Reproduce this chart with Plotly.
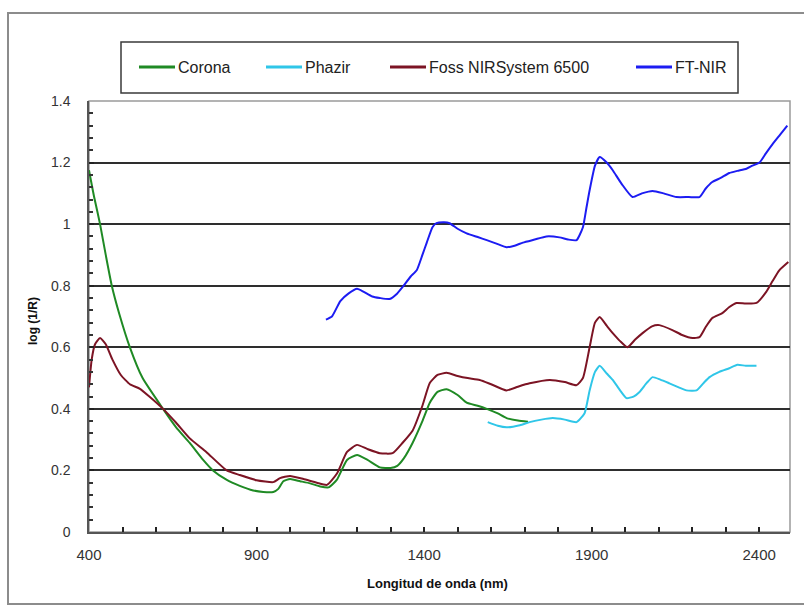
import plotly.graph_objects as go

# Spectra: wavelength (nm) and log(1/R)
corona_nm = [400, 415, 433, 450, 468, 490, 522, 560, 621, 660, 700, 740, 770,
             810, 850, 890, 920, 950, 965, 980, 1000, 1030, 1060, 1090, 1115, 1140, 1170,
             1200, 1230, 1268, 1300, 1320, 1340, 1366, 1395, 1417, 1440, 1467, 1500, 1527,
             1560, 1587, 1620, 1646, 1680, 1710]
corona_val = [1.175, 1.09, 1.0, 0.90, 0.80, 0.71, 0.60, 0.50, 0.40, 0.34,
              0.29, 0.235, 0.20, 0.17, 0.15, 0.135, 0.13, 0.13, 0.14, 0.165, 0.172, 0.165,
              0.158, 0.148, 0.145, 0.17, 0.234, 0.25, 0.235, 0.21, 0.208, 0.215, 0.24, 0.29,
              0.36, 0.42, 0.455, 0.464, 0.445, 0.42, 0.41, 0.40, 0.385, 0.37, 0.362, 0.358]

phazir_nm = [1590, 1620, 1646, 1686, 1715, 1750, 1784, 1820, 1855, 1879, 1894, 1910, 1924,
             1945, 1963, 1985, 2004, 2025, 2043, 2065, 2082, 2105, 2132, 2160, 2183, 2213,
             2235, 2252, 2281, 2311, 2335, 2360, 2392]
phazir_val = [0.357, 0.345, 0.34, 0.347, 0.357, 0.365, 0.37, 0.365, 0.357, 0.386, 0.46, 0.52,
              0.54, 0.515, 0.494, 0.46, 0.435, 0.44, 0.455, 0.485, 0.503, 0.495, 0.483, 0.47,
              0.46, 0.46, 0.485, 0.503, 0.52, 0.532, 0.543, 0.54, 0.54]

foss_nm = [400, 408, 418, 433, 450, 470, 495, 522, 552, 580, 621, 660, 700, 750, 811, 850,
           900, 950, 970, 1000, 1040, 1080, 1110, 1140, 1170, 1200, 1230, 1268, 1306, 1336,
           1366, 1395, 1417, 1440, 1467, 1500, 1530, 1566, 1600, 1646, 1680, 1715, 1775,
           1820, 1855, 1874, 1894, 1910, 1924, 1945, 1963, 1985, 2007, 2030, 2052, 2080,
           2102, 2141, 2170, 2201, 2222, 2240, 2260, 2290, 2310, 2332, 2360, 2392, 2421,
           2440, 2460, 2487]
foss_val = [0.47, 0.56, 0.61, 0.63, 0.61, 0.56, 0.51, 0.48, 0.465, 0.44, 0.40, 0.355, 0.305,
            0.26, 0.20, 0.185, 0.168, 0.162, 0.175, 0.182, 0.172, 0.16, 0.153, 0.19, 0.26,
            0.283, 0.27, 0.256, 0.256, 0.29, 0.33, 0.41, 0.484, 0.51, 0.517, 0.507, 0.50,
            0.494, 0.48, 0.46, 0.472, 0.483, 0.494, 0.487, 0.477, 0.50, 0.60, 0.68, 0.698,
            0.67, 0.646, 0.62, 0.60, 0.625, 0.646, 0.668, 0.672, 0.656, 0.64, 0.63, 0.633,
            0.665, 0.695, 0.711, 0.73, 0.744, 0.742, 0.744, 0.78, 0.815, 0.85, 0.877]

ftnir_nm = [1107, 1125, 1150, 1175, 1200, 1220, 1245, 1268, 1297, 1320, 1336, 1360, 1378,
            1395, 1408, 1425, 1437, 1460, 1476, 1500, 1527, 1560, 1587, 1620, 1646, 1670,
            1695, 1730, 1765, 1804, 1830, 1855, 1874, 1884, 1894, 1910, 1924, 1945, 1963,
            1990, 2022, 2050, 2082, 2115, 2153, 2190, 2222, 2240, 2260, 2285, 2311, 2335,
            2362, 2380, 2401, 2420, 2440, 2462, 2484]
ftnir_val = [0.69, 0.70, 0.75, 0.775, 0.79, 0.78, 0.765, 0.76, 0.757, 0.775, 0.796, 0.83,
             0.85, 0.90, 0.94, 0.99, 1.003, 1.006, 1.003, 0.985, 0.97, 0.958, 0.948, 0.935,
             0.925, 0.93, 0.94, 0.95, 0.96, 0.957, 0.95, 0.948, 0.99, 1.05, 1.11, 1.19,
             1.218, 1.20, 1.175, 1.13, 1.088, 1.10, 1.108, 1.10, 1.088, 1.088, 1.088, 1.115,
             1.137, 1.15, 1.166, 1.173, 1.18, 1.19, 1.2, 1.23, 1.26, 1.29, 1.32]

series_names = ["Corona", "Phazir", "Foss NIRSystem 6500", "FT-NIR"]
series_colors = ["#1f8a24", "#2fc6e8", "#7c1424", "#1c1cf2"]
series_x = [corona_nm, phazir_nm, foss_nm, ftnir_nm]
series_y = [corona_val, phazir_val, foss_val, ftnir_val]

x_title = "Longitud de onda (nm)"
y_title = "log (1/R)"

W, H = 804, 608
L, R, T, B = 89, 790, 101, 532  # plot area in pixels

def px_x(p):
    return (p - L) / (R - L)

def px_y(p):
    return (B - p) / (B - T)

FONT = "Liberation Sans, Arial, sans-serif"

fig = go.Figure()
for name, color, xs, ys in zip(series_names, series_colors, series_x, series_y):
    fig.add_trace(go.Scatter(x=xs, y=ys, mode="lines", name=name,
                             line=dict(color=color, width=2, shape="spline", smoothing=0.5),
                             showlegend=False))

shapes = []
# outer frame
shapes.append(dict(type="rect", xref="paper", yref="paper",
                   x0=px_x(8), x1=px_x(812), y0=px_y(604), y1=px_y(13),
                   line=dict(color="#8c8c8c", width=2), layer="below"))
# plot border (top/right)
shapes.append(dict(type="rect", xref="paper", yref="paper", x0=0, x1=1, y0=0, y1=1,
                   line=dict(color="#9a9a9a", width=1.5), layer="below"))
# legend box
shapes.append(dict(type="rect", xref="paper", yref="paper",
                   x0=px_x(121), x1=px_x(738), y0=px_y(93), y1=px_y(42),
                   line=dict(color="#3a3a3a", width=1.5), fillcolor="white"))

annotations = []
legend_line_x = [139, 266, 390, 636]
leg_y = 67
for name, color, lx in zip(series_names, series_colors, legend_line_x):
    shapes.append(dict(type="line", xref="paper", yref="paper",
                       x0=px_x(lx), x1=px_x(lx + 36), y0=px_y(leg_y), y1=px_y(leg_y),
                       line=dict(color=color, width=3)))
    annotations.append(dict(text=name, xref="paper", yref="paper",
                            x=px_x(lx + 37), y=px_y(leg_y), xanchor="left", yanchor="middle",
                            showarrow=False, font=dict(family=FONT, size=16, color="#222222")))

annotations.append(dict(text=f"<b>{x_title}</b>", xref="paper", yref="paper",
                        x=px_x(437), y=px_y(583), xanchor="center", yanchor="middle",
                        showarrow=False, font=dict(family=FONT, size=13, color="#111111")))
annotations.append(dict(text=f"<b>{y_title}</b>", xref="paper", yref="paper",
                        x=px_x(33), y=px_y(321), xanchor="center", yanchor="middle",
                        textangle=-90, showarrow=False,
                        font=dict(family=FONT, size=12, color="#111111")))

fig.update_layout(
    width=W, height=H,
    margin=dict(l=L, r=W - R, t=T, b=H - B, pad=0),
    paper_bgcolor="white", plot_bgcolor="white",
    shapes=shapes, annotations=annotations,
    showlegend=False,
    xaxis=dict(range=[400, 2492], tick0=400, dtick=500, ticks="inside", ticklen=5,
               tickwidth=1.5, tickcolor="#222222", showgrid=False, zeroline=False,
               showline=True, linecolor="#555555", linewidth=1.5,
               tickfont=dict(family=FONT, size=15, color="#333333"),
               ticklabelstandoff=8,
               minor=dict(dtick=100, tick0=400, ticks="inside", ticklen=5, tickwidth=1.5,
                          tickcolor="#222222", showgrid=False)),
    yaxis=dict(range=[0, 1.4], tick0=0, dtick=0.2, ticks="inside", ticklen=5,
               tickwidth=1.5, tickcolor="#222222", showgrid=True, gridcolor="#2e2e2e",
               gridwidth=1.5, zeroline=False, showline=True, linecolor="#555555",
               linewidth=1.5,
               tickfont=dict(family=FONT, size=14, color="#333333"),
               ticklabelstandoff=14,
               minor=dict(dtick=0.04, tick0=0, ticks="inside", ticklen=4, tickwidth=1.5,
                          tickcolor="#333333", showgrid=False)),
)

fig.write_html("out.html")
